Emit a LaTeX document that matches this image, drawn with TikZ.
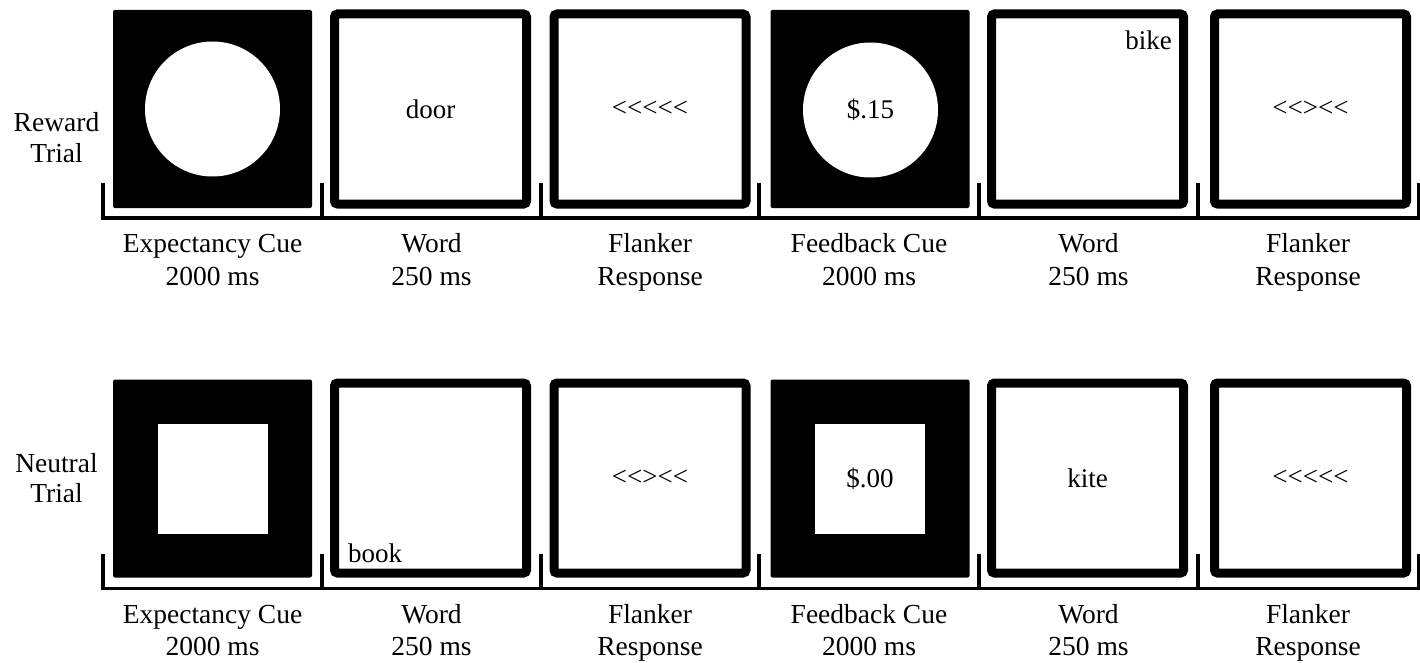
\documentclass[tikz,border=0pt]{standalone}
\usepackage{fontspec}
\setmainfont{Liberation Serif}
\begin{document}
\begin{tikzpicture}[x=1pt,y=-1pt,
  outbox/.style={draw=black,line width=9pt,rounded corners=3pt,minimum width=192pt,minimum height=190pt,inner sep=0pt},
  blackbox/.style={fill=black,rounded corners=2pt,minimum width=199pt,minimum height=198pt,inner sep=0pt},
  disc/.style={circle,fill=white,minimum size=135pt,inner sep=0pt},
  sq/.style={rectangle,fill=white,minimum size=110pt,inner sep=0pt},
  bracket/.style={line width=3.5pt},
  lbl/.style={font=\fontsize{27.5}{33}\selectfont,anchor=base,inner sep=0pt},
  stim/.style={font=\fontsize{27}{32}\selectfont,inner sep=0pt}]
\useasboundingbox (0,0) rectangle (1420,663);

% ---------- Row 1: Reward trial ----------
\node[blackbox] (a1) at (212.5,109) {};
\node[disc] (a1c) at (a1.center) {};
\node[outbox] (a2) at (430.5,109) {};
\node[stim] (a2t) at (a2.center) {door};
\node[outbox] (a3) at (650,109) {};
\node[stim] (a3t) at (a3.center) {<{}<{}<{}<{}<};
\node[blackbox] (a4) at (870,109) {};
\node[disc] (a4c) at (870.5,110) {};
\node[stim] (a4t) at (a4c.center) {\$.15};
\node[outbox] (a5) at (1087.5,109) {};
\node[stim,anchor=base east] (a5t) at (1172,50) {bike};
\node[outbox] (a6) at (1310.5,109) {};
\node[stim] (a6t) at (a6.center) {<{}<{}>{}<{}<};

\coordinate (aL) at (101.25,218);
\coordinate (aR) at (1420,218);
\draw[bracket] (aL) -- (aR);
\foreach \x in {103,322,541,759,979,1198,1418.5}
  \draw[bracket] (\x,183) -- (\x,218);

\node[lbl] (ra) at (56.5,132) {Reward};
\node[lbl] (rb) at (56.5,163) {Trial};

\node[lbl] (l1a) at (212.5,252) {Expectancy Cue};
\node[lbl] (l1b) at (212.5,285) {2000 ms};
\node[lbl] (l2a) at (431.5,252) {Word};
\node[lbl] (l2b) at (431.5,285) {250 ms};
\node[lbl] (l3a) at (650,252) {Flanker};
\node[lbl] (l3b) at (650,285) {Response};
\node[lbl] (l4a) at (869,252) {Feedback Cue};
\node[lbl] (l4b) at (869,285) {2000 ms};
\node[lbl] (l5a) at (1088.5,252) {Word};
\node[lbl] (l5b) at (1088.5,285) {250 ms};
\node[lbl] (l6a) at (1308,252) {Flanker};
\node[lbl] (l6b) at (1308,285) {Response};

% ---------- Row 2: Neutral trial ----------
\node[blackbox] (b1) at (212.5,478.5) {};
\node[sq] (b1s) at (b1.center) {};
\node[outbox] (b2) at (430.5,478) {};
\node[stim,anchor=base west] (b2t) at (348,562) {book};
\node[outbox] (b3) at (650,478) {};
\node[stim] (b3t) at (b3.center) {<{}<{}>{}<{}<};
\node[blackbox] (b4) at (870,478.5) {};
\node[sq] (b4s) at (b4.center) {};
\node[stim] (b4t) at (b4s.center) {\$.00};
\node[outbox] (b5) at (1087.5,478) {};
\node[stim] (b5t) at (b5.center) {kite};
\node[outbox] (b6) at (1310.5,478) {};
\node[stim] (b6t) at (b6.center) {<{}<{}<{}<{}<};

\coordinate (bL) at (101.25,588.5);
\coordinate (bR) at (1420,588.5);
\draw[bracket] (bL) -- (bR);
\foreach \x in {103,322,541,759,979,1198,1418.5}
  \draw[bracket] (\x,554) -- (\x,588.5);

\node[lbl] (na) at (56.5,472) {Neutral};
\node[lbl] (nb) at (56.5,502) {Trial};

\node[lbl] (m1a) at (212.5,623) {Expectancy Cue};
\node[lbl] (m1b) at (212.5,655) {2000 ms};
\node[lbl] (m2a) at (431.5,623) {Word};
\node[lbl] (m2b) at (431.5,655) {250 ms};
\node[lbl] (m3a) at (650,623) {Flanker};
\node[lbl] (m3b) at (650,655) {Response};
\node[lbl] (m4a) at (869,623) {Feedback Cue};
\node[lbl] (m4b) at (869,655) {2000 ms};
\node[lbl] (m5a) at (1088.5,623) {Word};
\node[lbl] (m5b) at (1088.5,655) {250 ms};
\node[lbl] (m6a) at (1308,623) {Flanker};
\node[lbl] (m6b) at (1308,655) {Response};
\end{tikzpicture}
\end{document}
